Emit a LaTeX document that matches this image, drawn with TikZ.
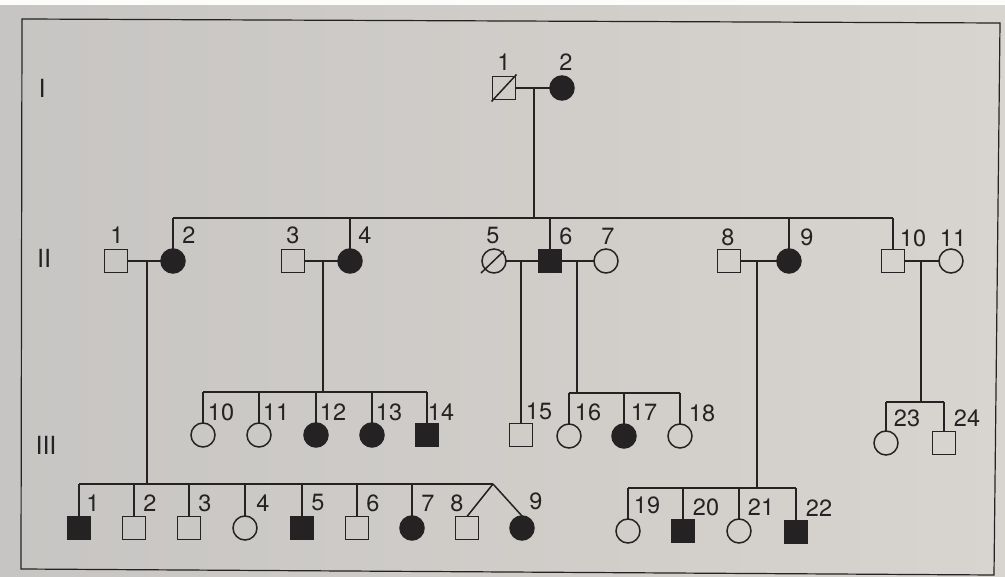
\documentclass[tikz,border=0pt]{standalone}
\usepackage{fontspec}
\setmainfont{TeX Gyre Heros}
\usetikzlibrary{calc}
\definecolor{paperL}{RGB}{199,197,195}
\definecolor{paperR}{RGB}{216,212,207}
\definecolor{ink}{RGB}{36,34,34}
\begin{document}
\begin{tikzpicture}[x=1pt,y=-1pt,line width=1.5pt,ink,
  every node/.style={inner sep=0pt,outer sep=0pt},
  male/.style={draw,rectangle,minimum size=23pt},
  female/.style={draw,circle,minimum size=24pt},
  affected/.style={fill=ink},
  lbl/.style={font=\fontsize{23.5}{23.5}\selectfont},
  gen/.style={font=\fontsize{25}{25}\selectfont},
  frameline/.style={line width=1.2pt}]
\useasboundingbox (0,0) rectangle (1005,577);
% paper
\shade[left color=paperL,right color=paperR] (0,0) rectangle (1005,577);
\fill[white!92!paperR] (0,0) rectangle (1005,5);
\draw[frameline] (22,19) -- (1000,23) -- (994,575) -- (21,569) -- cycle;

% generation numerals
\node[gen] (genI) at (42,88) {I};
\node[gen] (genII) at (44,258) {II};
\node[gen] (genIII) at (46,445) {III};

% ---------- generation I ----------
\node[male] (g1a) at (504,88) {};
\node[female,affected] (g1b) at (562,88) {};
\draw ($(g1a.center)+(-12.5,13.5)$) -- ($(g1a.center)+(12.5,-13.5)$);
\node[lbl] (lg1a) at (504,62) {1};
\node[lbl] (lg1b) at (566,62) {2};
\draw (g1a) -- (g1b);
\coordinate (m1) at (534,88);
\coordinate (s2) at (534,218);
\draw (m1) -- (s2);

% ---------- generation II ----------
\node[male] (g2a) at (116,261) {};
\node[female,affected] (g2b) at (173,261) {};
\node[male] (g2c) at (293,261) {};
\node[female,affected] (g2d) at (350,261) {};
\node[female] (g2e) at (494,261) {};
\node[male,affected] (g2f) at (550,261) {};
\node[female] (g2g) at (606,261) {};
\node[male] (g2h) at (729,261) {};
\node[female,affected] (g2i) at (789,261) {};
\node[male] (g2j) at (893,261) {};
\node[female] (g2k) at (951,261) {};
\draw ($(g2e.center)+(-13,12)$) -- ($(g2e.center)+(10,-10)$);

\node[lbl] (lg2a) at (117,235) {1};
\node[lbl] (lg2b) at (189,235) {2};
\node[lbl] (lg2c) at (293,235) {3};
\node[lbl] (lg2d) at (365,235) {4};
\node[lbl] (lg2e) at (493,236) {5};
\node[lbl] (lg2f) at (566,236) {6};
\node[lbl] (lg2g) at (608,236) {7};
\node[lbl] (lg2h) at (728,237) {8};
\node[lbl] (lg2i) at (807,237) {9};
\node[lbl] (lg2j) at (913,238) {10};
\node[lbl] (lg2k) at (953,238) {11};

% sibship of generation II
\coordinate (s2L) at (173,218);
\coordinate (s2R) at (893,218);
\draw (s2L) -- (s2R);
\foreach \p in {g2b,g2d,g2f,g2i,g2j} \draw (\p.north) -- (\p.north |- s2L);

% matings
\draw (g2a) -- (g2b);
\draw (g2c) -- (g2d);
\draw (g2e) -- (g2f);
\draw (g2f) -- (g2g);
\draw (g2h) -- (g2i);
\draw (g2j) -- (g2k);

% ---------- generation III, upper row ----------
\node[female] (p10) at (203,435) {};
\node[female] (p11) at (259,435) {};
\node[female,affected] (p12) at (316,435) {};
\node[female,affected] (p13) at (372,435) {};
\node[male,affected] (p14) at (427,435) {};
\node[male] (p15) at (521,435) {};
\node[female] (p16) at (569,436) {};
\node[female,affected] (p17) at (624,436) {};
\node[female] (p18) at (680,436) {};
\node[female] (p23) at (886,443) {};
\node[male] (p24) at (944,443) {};

\node[lbl] (lp10) at (221,412) {10};
\node[lbl] (lp11) at (276,412) {11};
\node[lbl] (lp12) at (333,412) {12};
\node[lbl] (lp13) at (389,412) {13};
\node[lbl] (lp14) at (441,412) {14};
\node[lbl] (lp15) at (539,411) {15};
\node[lbl] (lp16) at (588,412) {16};
\node[lbl] (lp17) at (644,412) {17};
\node[lbl] (lp18) at (702,413) {18};
\node[lbl] (lp23) at (907,418) {23};
\node[lbl] (lp24) at (967,418) {24};

% children of II-3 x II-4
\coordinate (d34) at (323,261);
\coordinate (s3a) at (323,392);
\draw (d34) -- (s3a);
\draw (p10.north |- s3a) -- (p14.north |- s3a);
\foreach \p in {p10,p11,p12,p13,p14} \draw (\p.north) -- (\p.north |- s3a);

% child of II-5 x II-6
\coordinate (d56) at (521,261);
\draw (d56) -- (p15);

% children of II-6 x II-7
\coordinate (d67) at (577,261);
\coordinate (s3b) at (577,393);
\draw (d67) -- (s3b);
\draw (p16.north |- s3b) -- (p18.north |- s3b);
\foreach \p in {p16,p17,p18} \draw (\p.north) -- (\p.north |- s3b);

% children of II-10 x II-11
\coordinate (d1011) at (921,261);
\coordinate (s3c) at (921,402);
\draw (d1011) -- (s3c);
\draw (p23.north |- s3c) -- (p24.north |- s3c);
\foreach \p in {p23,p24} \draw (\p.north) -- (\p.north |- s3c);

% ---------- generation III, lower row ----------
\node[male,affected] (q1) at (79,528) {};
\node[male] (q2) at (134,528) {};
\node[male] (q3) at (189,528) {};
\node[female] (q4) at (245,528) {};
\node[male,affected] (q5) at (302,528) {};
\node[male] (q6) at (357,528) {};
\node[female,affected] (q7) at (412,528) {};
\node[male] (q8) at (467,528) {};
\node[female,affected] (q9) at (522,528) {};
\node[female] (q19) at (628,531) {};
\node[male,affected] (q20) at (683,531) {};
\node[female] (q21) at (739,531) {};
\node[male,affected] (q22) at (796,532) {};

\node[lbl] (lq1) at (93,503) {1};
\node[lbl] (lq2) at (150,503) {2};
\node[lbl] (lq3) at (205,503) {3};
\node[lbl] (lq4) at (263,503) {4};
\node[lbl] (lq5) at (318,503) {5};
\node[lbl] (lq6) at (373,503) {6};
\node[lbl] (lq7) at (428,503) {7};
\node[lbl] (lq8) at (457,503) {8};
\node[lbl] (lq9) at (536,501) {9};
\node[lbl] (lq19) at (647,505) {19};
\node[lbl] (lq20) at (706,507) {20};
\node[lbl] (lq21) at (761,507) {21};
\node[lbl] (lq22) at (819,508) {22};

% children of II-1 x II-2
\coordinate (d12) at (147,261);
\coordinate (s4a) at (147,484);
\coordinate (twin) at (493,484);
\draw (d12) -- (s4a);
\draw (q1.north |- s4a) -- (twin);
\foreach \p in {q1,q2,q3,q4,q5,q6,q7} \draw (\p.north) -- (\p.north |- s4a);
\draw (twin) -- (q8.north);
\draw (twin) -- (q9.north);

% children of II-8 x II-9
\coordinate (d89) at (757,261);
\coordinate (s4b) at (757,488);
\draw (d89) -- (s4b);
\draw (q19.north |- s4b) -- (q22.north |- s4b);
\foreach \p in {q19,q20,q21,q22} \draw (\p.north) -- (\p.north |- s4b);
\end{tikzpicture}
\end{document}
